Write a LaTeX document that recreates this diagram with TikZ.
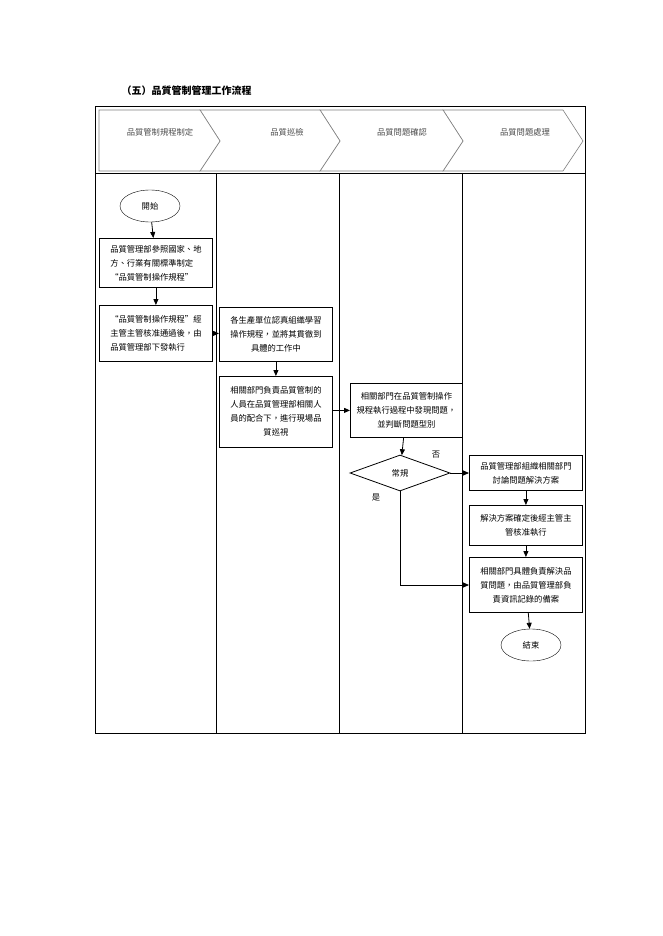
\documentclass[tikz,border=0pt]{standalone}
\usepackage{fontspec}
\setmainfont{Noto Sans CJK TC}
\usetikzlibrary{shapes.geometric,arrows.meta}
\begin{document}
\begin{tikzpicture}[x=1pt,y=-1pt,
  txt/.style={font=\fontsize{8.3}{14}\selectfont},
  box/.style={draw,thick,txt,inner sep=1pt,anchor=north west,align=center},
  ell/.style={draw,ellipse,txt,minimum width=60pt,minimum height=32pt},
  arr/.style={-{Triangle[length=6pt,width=5pt]},thick},
  chev/.style={draw=gray,fill=white,line width=0.6pt}]
\useasboundingbox (0,0) rectangle (662,936);
\node[anchor=base west,font=\bfseries\fontsize{10}{12}\selectfont] (title) at (118,95) {（五）品質管制管理工作流程};
\draw[thick] (95,106) rectangle (585,733);
\draw[thick] (95,173) -- (585,173);
\foreach \x in {216,339,462} \draw[thick] (\x,173) -- (\x,733);
% chevrons
\draw[chev] (443,110) -- (563,110) -- (583,141) -- (563,171) -- (443,171) -- (463,141) -- cycle;
\draw[chev] (320,110) -- (443,110) -- (463,141) -- (443,171) -- (320,171) -- (340,141) -- cycle;
\draw[chev] (200,110) -- (320,110) -- (340,141) -- (320,171) -- (200,171) -- (220,141) -- cycle;
\draw[chev] (99,110) -- (200,110) -- (220,141) -- (200,171) -- (99,171) -- cycle;
\node[txt,text=gray!60!black] (h1) at (160,132) {品質管制規程制定};
\node[txt,text=gray!60!black] (h2) at (287,132) {品質巡檢};
\node[txt,text=gray!60!black] (h3) at (402,132) {品質問題確認};
\node[txt,text=gray!60!black] (h4) at (525,132) {品質問題處理};
% nodes
\node[ell] (start) at (150,206) {開始};
\node[box,minimum width=113pt,minimum height=49pt,align=left] (b1) at (99,238) {品質管理部參照國家、地\\方、行業有關標準制定\\“品質管制操作規程”};
\node[box,minimum width=113pt,minimum height=56pt,align=left] (b2) at (99,305) {“品質管制操作規程”經\\主管主管核准通過後，由\\品質管理部下發執行};
\node[box,minimum width=113pt,minimum height=54pt] (b3) at (219,307) {各生產單位認真組織學習\\操作規程，並將其貫徹到\\具體的工作中};
\node[box,minimum width=113pt,minimum height=71pt,anchor=north west] (b4) at (219,376) {\begin{tabular}[t]{@{}c@{}}相關部門負責品質管制的\\人員在品質管理部相關人\\員的配合下，進行現場品\\質巡視\end{tabular}};
\node[box,minimum width=112pt,minimum height=54pt] (b5) at (350,383) {相關部門在品質管制操作\\規程執行過程中發現問題，\\並判斷問題型別};
\node[draw,thick,diamond,aspect=2.8,minimum width=100pt,minimum height=36pt,inner sep=0pt,txt] (d) at (400,473) {常規};
\node[txt] (no) at (436,455) {否};
\node[txt] (yes) at (376,498) {是};
\node[box,minimum width=113pt,minimum height=35pt] (b6) at (469,455) {品質管理部組織相關部門\\討論問題解決方案};
\node[box,minimum width=113pt,minimum height=40pt] (b7) at (469,505) {解決方案確定後經主管主\\管核准執行};
\node[box,minimum width=113pt,minimum height=55pt] (b8) at (469,557) {相關部門具體負責解決品\\質問題，由品質管理部負\\責資訊記錄的備案};
\node[ell] (end) at (531,645) {結束};
\coordinate (c1) at (400,585);
% arrows
\draw[arr] (start) -- (b1);
\draw[arr] (b1) -- (b2);
\draw[arr] (b2.east) -- (b3.west |- b2.east);
\draw[arr] (b3) -- (b4);
\draw[arr] (b4.east |- b5.west) -- (b5.west);
\draw[arr] (b5) -- (d);
\draw[arr] (d.east) -- (b6.west |- d.east);
\draw[arr] (b6) -- (b7);
\draw[arr] (b7) -- (b8);
\draw[arr] (d.south) -- (c1) -- (b8.west |- c1);
\draw[arr] (b8) -- (end);
\end{tikzpicture}
\end{document}
